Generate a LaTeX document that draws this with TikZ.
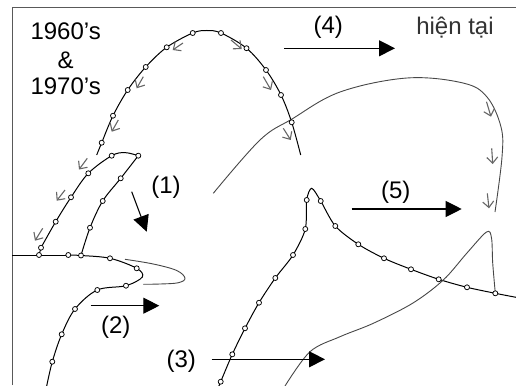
\documentclass[tikz,border=0pt]{standalone}
\usepackage{fontspec}
\setmainfont{Liberation Sans}
\usetikzlibrary{arrows.meta}
\begin{document}
\begin{tikzpicture}[x=1pt,y=-1pt,
  blk/.style={line width=1pt, black},
  gry/.style={line width=0.9pt, black!72},
  mk/.style={circle, draw=black, fill=white, inner sep=0pt, minimum size=5pt, line width=0.75pt},
  garr/.style={line width=1.1pt, black!60, -{Straight Barb[length=6pt,width=11pt,line width=1.1pt]}},
  bigarr/.style={line width=1.1pt, black, -{Triangle[length=16pt,width=16pt]}},
  lbl/.style={font=\fontsize{24}{26}\selectfont, anchor=base, inner sep=0pt}]
\useasboundingbox (0,0) rectangle (516,385);
% frame
\draw[line width=1pt, black!65] (12,385) -- (12,8) -- (516,8);

% big arc (1960's & 1970's)
\draw[blk] plot[smooth, tension=0.55] coordinates {(96.7,155) (101.7,142.7) (113,115.7) (127.7,90) (145.7,67) (166.7,47.3) (192.7,33) (206.7,30.5) (221,33) (246.5,48.2) (266,70) (281,95) (291.7,122.3) (300.7,155)};

% lower-left curve
\draw[blk] (12,255) -- (68.3,255);
\draw[blk] plot[smooth, tension=0.55] coordinates {(68.3,255) (81,255.5) (110,258.3) (136.7,268.3) (142.3,277) (126,285.7) (97.3,290) (75,309) (61.7,334.3) (52.3,361.7) (46.7,386)};
% loop
\draw[blk] (39,255) -- (41,247.7);
\draw[blk] plot[smooth, tension=0.55] coordinates {(41,247.7) (55.7,221.7) (71,197.3) (88.3,173.3) (111.7,155.7) (125,152.6) (138.3,155.7)};
\draw[blk] plot[smooth, tension=0.55] coordinates {(138.3,155.7) (120.7,178.3) (102.7,201) (90,227.7) (81,255.5)};

% lower-middle curve
\draw[blk] plot[smooth, tension=0.5] coordinates {(218.5,387) (220.7,381.7) (232.3,354.3) (245,328.3) (259,302.7) (275.3,278) (293,255) (305.3,229) (306.7,200) (311.7,188.3) (320.7,201) (335.3,226) (358.3,244.3) (384,258.3) (411,269.3) (438.7,279.3) (467,287.3) (495.3,293.3) (516,297.3)};

% gray curves
\draw[gry] plot[smooth, tension=0.6] coordinates {(125,259.3) (153.3,264) (176.7,270.5) (185,278.3) (178,282.8) (160,284) (143.3,284.3)};
\draw[gry] plot[smooth, tension=0.6] coordinates {(213.3,193.3) (260,140) (292,119) (340,92) (407,78) (463,83) (487,97) (501,127) (502,157) (495,212)};
\draw[gry] plot[smooth, tension=0.55] coordinates {(285,386) (310,351.7) (340,336.7) (373.3,323.3) (413,303) (443.3,280) (466.7,253.3) (486.5,232) (491.5,238) (492.7,263) (495.3,293.3)};

% marks
\foreach \p [count=\i] in {(101.7,142.7),(113,115.7),(127.7,90),(145.7,67),(166.7,47.3),(192.7,33),(221,33),(246.5,48.2),(266,70),(281,95),(291.7,122.3),
  (39,255),(68.3,255),(81,255.5),(110,258.3),(136.7,268.3),(126,285.7),(97.3,290),(75,309),(61.7,334.3),(52.3,361.7),
  (41,247.7),(55.7,221.7),(71,197.3),(88.3,173.3),(111.7,155.7),(138.3,155.7),(120.7,178.3),(102.7,201),(90,227.7),
  (220.7,381.7),(232.3,354.3),(245,328.3),(259,302.7),(275.3,278),(293,255),(305.3,229),(306.7,200),(320.7,201),(335.3,226),(358.3,244.3),(384,258.3),(411,269.3),(438.7,279.3),(467,287.3),(495.3,293.3)}
  \node[mk] (m\i) at \p {};

% small gray arrows
\draw[garr] (183,43) -- (172.7,50);
\draw[garr] (143.3,76.7) -- (136.7,88.3);
\draw[garr] (118.3,120) -- (111.7,131.7);
\draw[garr] (87.3,158.3) -- (79,169.5);
\draw[garr] (65,190) -- (56.7,200.7);
\draw[garr] (42.7,228.3) -- (35,240.7);
\draw[garr] (231,40) -- (241.7,49);
\draw[garr] (263.3,76.7) -- (271,90);
\draw[garr] (283.3,128.3) -- (290.7,140);
\draw[garr] (486.5,101.7) -- (491,116.7);
\draw[garr] (491.7,148.3) -- (492.7,164);
\draw[garr] (487.3,193.3) -- (489,208.3);

% big arrows
\coordinate (a1s) at (131.7,191.7); \coordinate (a1e) at (146.7,231.7);
\coordinate (a2s) at (90.7,305.7);  \coordinate (a2e) at (159.3,305.7);
\coordinate (a3s) at (211.7,359.3); \coordinate (a3e) at (325,359.3);
\coordinate (a4s) at (284,48.3);    \coordinate (a4e) at (395,48.3);
\coordinate (a5s) at (351.7,209);   \coordinate (a5e) at (461.7,209);
\draw[bigarr] (a1s) -- (a1e);
\draw[bigarr] (a2s) -- (a2e);
\draw[bigarr] (a3s) -- (a3e);
\draw[bigarr] (a4s) -- (a4e);
\draw[bigarr] (a5s) -- (a5e);

% labels
\node[lbl] (t1) at (65.7,40) {1960’s};
\node[lbl] (t2) at (65.7,68.3) {\&};
\node[lbl] (t3) at (65.7,95) {1970’s};
\node[lbl] (l1) at (166,193.7) {(1)};
\node[lbl] (l2) at (115.8,333.7) {(2)};
\node[lbl] (l3) at (181.2,367) {(3)};
\node[lbl] (l4) at (328.3,33.7) {(4)};
\node[lbl] (l5) at (395.8,198) {(5)};
\node[lbl, text=black!80] (now) at (455,34.3) {hiện tại};
\end{tikzpicture}
\end{document}
